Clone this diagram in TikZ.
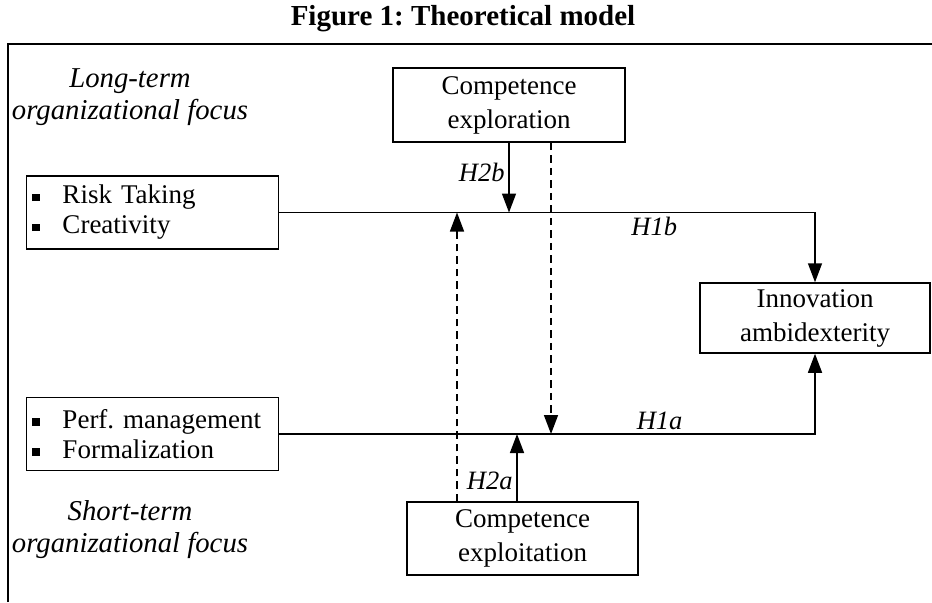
\documentclass[tikz,border=0pt]{standalone}
\usepackage{fontspec}
\setmainfont{Liberation Serif}
\usetikzlibrary{arrows.meta,calc}
\newcommand\sqbullet{\rule[1.1pt]{3pt}{3pt}\hspace{9pt}}
\frenchspacing
\begin{document}
\begin{tikzpicture}[x=0.4pt,y=-0.4pt,font=\fontsize{10.8}{13.6}\selectfont] % model
\tikzstyle{concept} = [draw, line width=0.6pt, inner sep=0pt, align=center] % framed block
\tikzstyle{listbox} = [draw, line width=0.6pt, inner ysep=0pt, inner xsep=2.4pt, text width=96pt, minimum height=29.2pt, align=left, font=\fontsize{10.8}{12}\selectfont] % block with bullets
\tikzstyle{focus} = [font=\fontsize{11.5}{12.8}\selectfont\itshape, align=center] % side labels
\tikzstyle{hyp} = [font=\fontsize{10.6}{12}\selectfont\itshape, inner sep=1.5pt] % hypothesis labels
\tikzstyle{link} = [line width=0.6pt, -{Triangle[width=5.6pt,length=7.6pt]}] % arrows
\tikzstyle{modlink} = [link, dash pattern=on 3pt off 2pt] % dashed arrows

\useasboundingbox (0,0) rectangle (932,602);
\draw[line width=0.8pt] (8,602) -- (8,44) -- (932,44); % frame

\node[font=\fontsize{11.6}{14}\selectfont\bfseries] (title) at (463,19) {Figure 1: Theoretical model};
\node[focus] (longfocus) at (130,97) {Long-term\\organizational focus};
\node[focus] (shortfocus) at (130,530) {Short-term\\organizational focus};

\node[listbox] (longbox) at (152.5,212.5) {\sqbullet Risk Taking\\\sqbullet Creativity};
\node[listbox] (shortbox) at (152.5,434) {\sqbullet Perf. management\\\sqbullet Formalization};
\node[concept, minimum width=92.8pt, minimum height=29.6pt] (explore) at (509,105) {Competence\\exploration};
\node[concept, minimum width=92.4pt, minimum height=29.2pt] (exploit) at (522.5,538.5) {Competence\\exploitation};
\node[concept, minimum width=92pt, minimum height=28pt] (innov) at (815,318) {Innovation\\ambidexterity};

% main effects
\draw[link] (longbox.east) -| node[pos=0.35, below, hyp] {H1b} (innov.north);
\draw[link] (shortbox.east) -| node[pos=0.355, above, hyp] {H1a} (innov.south);

% moderation
\draw[link] (explore.south) -- node[pos=0.43, left, hyp] {H2b} (explore.south |- longbox.east);
\coordinate (exploitup) at ($(exploit.north)+(-5.5,0)$);
\draw[link] (exploitup) -- node[pos=0.3, left, hyp] {H2a} (exploitup |- shortbox.east);
\coordinate (exploredash) at ($(explore.south)+(42,0)$);
\draw[modlink] (exploredash) -- (exploredash |- shortbox.east);
\coordinate (exploitdash) at ($(exploit.north)+(-65.5,0)$);
\draw[modlink] (exploitdash) -- (exploitdash |- longbox.east);
\end{tikzpicture}
\end{document}
